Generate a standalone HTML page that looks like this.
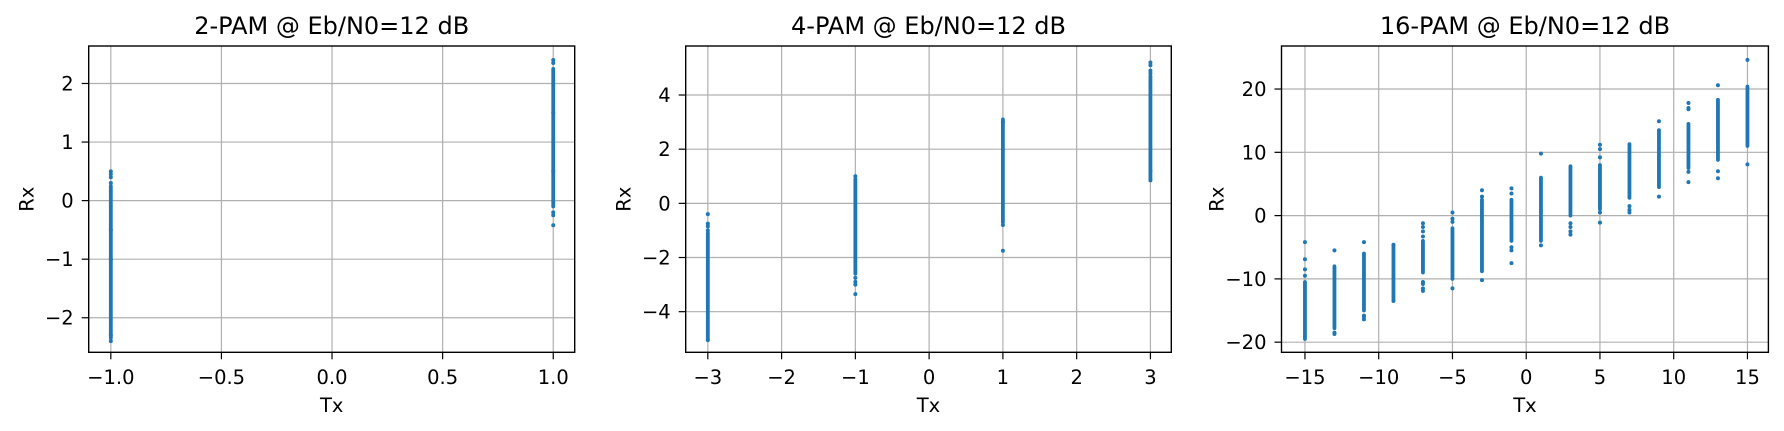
<!DOCTYPE html>
<html><head><meta charset="utf-8"><style>
html,body{margin:0;padding:0;background:#fff}
svg{display:block;font-family:"DejaVu Sans","Liberation Sans",sans-serif}
</style></head><body>
<svg id="fig" width="1784" height="431" viewBox="0 0 1784 431" xmlns="http://www.w3.org/2000/svg"></svg>
<script>
// ---- data: 2-PAM ----
const pam2Tx = [-1, 1];
const pam2DenseLo = [-2.35, -0.1];
const pam2DenseHi = [0.25, 2.25];
const pam2Points = [[0.5,0.45,0.4,0.3,-2.4,-2.3,-1.0,-0.5], [2.4,2.35,-0.2,-0.25,-0.42,0.5,1.5]];
const pam2XTicks = [-1.0,-0.5,0.0,0.5,1.0];
const pam2XLabels = ["\u22121.0","\u22120.5","0.0","0.5","1.0"];
const pam2YTicks = [-2,-1,0,1,2];
// ---- data: 4-PAM ----
const pam4Tx = [-3, -1, 1, 3];
const pam4DenseLo = [-5.0, -2.6, -0.7, 0.9];
const pam4DenseHi = [-1.1, 0.9, 3.1, 4.7];
const pam4Points = [[-0.4,-0.75,-0.85,-1.0,-5.05],[1.0,-2.75,-2.9,-3.0,-3.35],[-0.8,-1.75,3.0],[5.2,5.1,4.9,4.8,0.85,1.2]];
const pam4XTicks = [-3,-2,-1,0,1,2,3];
const pam4YTicks = [-4,-2,0,2,4];
// ---- data: 16-PAM ----
const pam16Tx = [-15,-13,-11,-9,-7,-5,-3,-1,1,3,5,7,9,11,13,15];
const pam16DenseLo = [-19.5,-17.8,-15,-13.3,-9,-10,-8.8,-4,-4,0,1,2.8,4.5,7.5,8.8,11];
const pam16DenseHi = [-10.5,-8,-6,-4.8,-4,-2,2.5,2.5,6,7.8,8,11.3,13.5,14.5,18.3,20.4];
const pam16Points = [
 [-4.2,-6.9,-8.5,-9.5],[-5.5,-18.7,-18.5],[-4.2,-16,-16.4,-15.8],[-13.5,-4.6],
 [-1.2,-1.8,-2.5,-3.3,-10.5,-10.8,-11.5,-11.9],[0.5,-0.5,-1,-11.5],[4,3,-10.2],[4.3,3.5,-5,-5.5,-7.5],
 [9.8,-4.7],[-1.2,-1.8,-2.5,-3.0],[11.2,10.5,9.2,0.5,-1.1],[1.5,0.9,0.5],
 [14.9,3],[17.8,17,16.8,6.9,5.3],[20.6,7,5.9],[24.6,8.1]];
const pam16XTicks = [-15,-10,-5,0,5,10,15];
const pam16YTicks = [-20,-10,0,10,20];
const titles = ["2-PAM @ Eb/N0=12 dB","4-PAM @ Eb/N0=12 dB","16-PAM @ Eb/N0=12 dB"];

const NS="http://www.w3.org/2000/svg";
const svg=document.getElementById('fig');
function mk(tag,attrs,parent){const e=document.createElementNS(NS,tag);for(const k in attrs)e.setAttribute(k,attrs[k]);(parent||svg).appendChild(e);return e;}
const minus=v=>String(v).replace('-','\u2212');
const FS=19.5;

function panel(idx,box,xlim,ylim,tx,lo,hi,pts,xt,xl,yt,ylOff){
  const g=mk('g',{});
  
  
  const X=v=>box.l+(v-xlim[0])/(xlim[1]-xlim[0])*(box.r-box.l);
  const Y=v=>box.b-(v-ylim[0])/(ylim[1]-ylim[0])*(box.b-box.t);
  xt.forEach((v,i)=>{
    const l=mk('line',{x1:X(v),x2:X(v),y1:box.t,y2:box.b,stroke:'#b0b0b0','stroke-width':1.2},g);
    
    
    mk('line',{x1:X(v),x2:X(v),y1:box.b,y2:box.b+7,stroke:'#000','stroke-width':1.2},g);
    const t=mk('text',{x:X(v),y:384,'font-size':FS,'text-anchor':'middle',fill:'#000'},g);
    t.textContent=xl?xl[i]:minus(v);
    
    
  });
  yt.forEach(v=>{
    const l=mk('line',{x1:box.l,x2:box.r,y1:Y(v),y2:Y(v),stroke:'#b0b0b0','stroke-width':1.2},g);
    
    
    mk('line',{x1:box.l-7,x2:box.l,y1:Y(v),y2:Y(v),stroke:'#000','stroke-width':1.2},g);
    const t=mk('text',{x:box.l-15,y:Y(v)+7,'font-size':FS,'text-anchor':'end',fill:'#000'},g);
    t.textContent=minus(v);
    
    
  });
  tx.forEach((x,i)=>{
    const r=mk('line',{x1:X(x),x2:X(x),y1:Y(lo[i]),y2:Y(hi[i]),stroke:'#1f77b4','stroke-width':3.8,'stroke-linecap':'round'},g);
    
    
    pts[i].forEach(p=>{
      const c=mk('circle',{cx:X(x),cy:Y(p),r:2,fill:'#1f77b4'},g);
      
      
    });
  });
  const fr=mk('rect',{x:box.l,y:box.t,width:box.r-box.l,height:box.b-box.t,fill:'none',stroke:'#000','stroke-width':1.4},g);
  
  
  const ti=mk('text',{x:(box.l+box.r)/2,y:34,'font-size':24,'text-anchor':'middle',fill:'#000'},g);
  ti.textContent=titles[idx];
  
  
  const xa=mk('text',{x:(box.l+box.r)/2,y:412,'font-size':FS,'text-anchor':'middle',fill:'#000'},g);
  xa.textContent='Tx';
  
  
  const yx=box.l-ylOff, yy=(box.t+box.b)/2;
  const ya=mk('text',{x:yx,y:yy,'font-size':FS,'text-anchor':'middle',fill:'#000',transform:`rotate(-90 ${yx} ${yy})`},g);
  ya.textContent='Rx';
  
  
}
panel(0,{l:88.7,r:574.7,t:46,b:352.3},[-1.1,1.097],[-2.59,2.64],pam2Tx,pam2DenseLo,pam2DenseHi,pam2Points,pam2XTicks,pam2XLabels,pam2YTicks,55);
panel(1,{l:685.7,r:1171.3,t:46,b:352.3},[-3.3,3.283],[-5.5,5.81],pam4Tx,pam4DenseLo,pam4DenseHi,pam4Points,pam4XTicks,null,pam4YTicks,55);
panel(2,{l:1281.5,r:1768.4,t:46,b:352.3},[-16.59,16.42],[-21.6,26.8],pam16Tx,pam16DenseLo,pam16DenseHi,pam16Points,pam16XTicks,null,pam16YTicks,58);
</script>
</body></html>
